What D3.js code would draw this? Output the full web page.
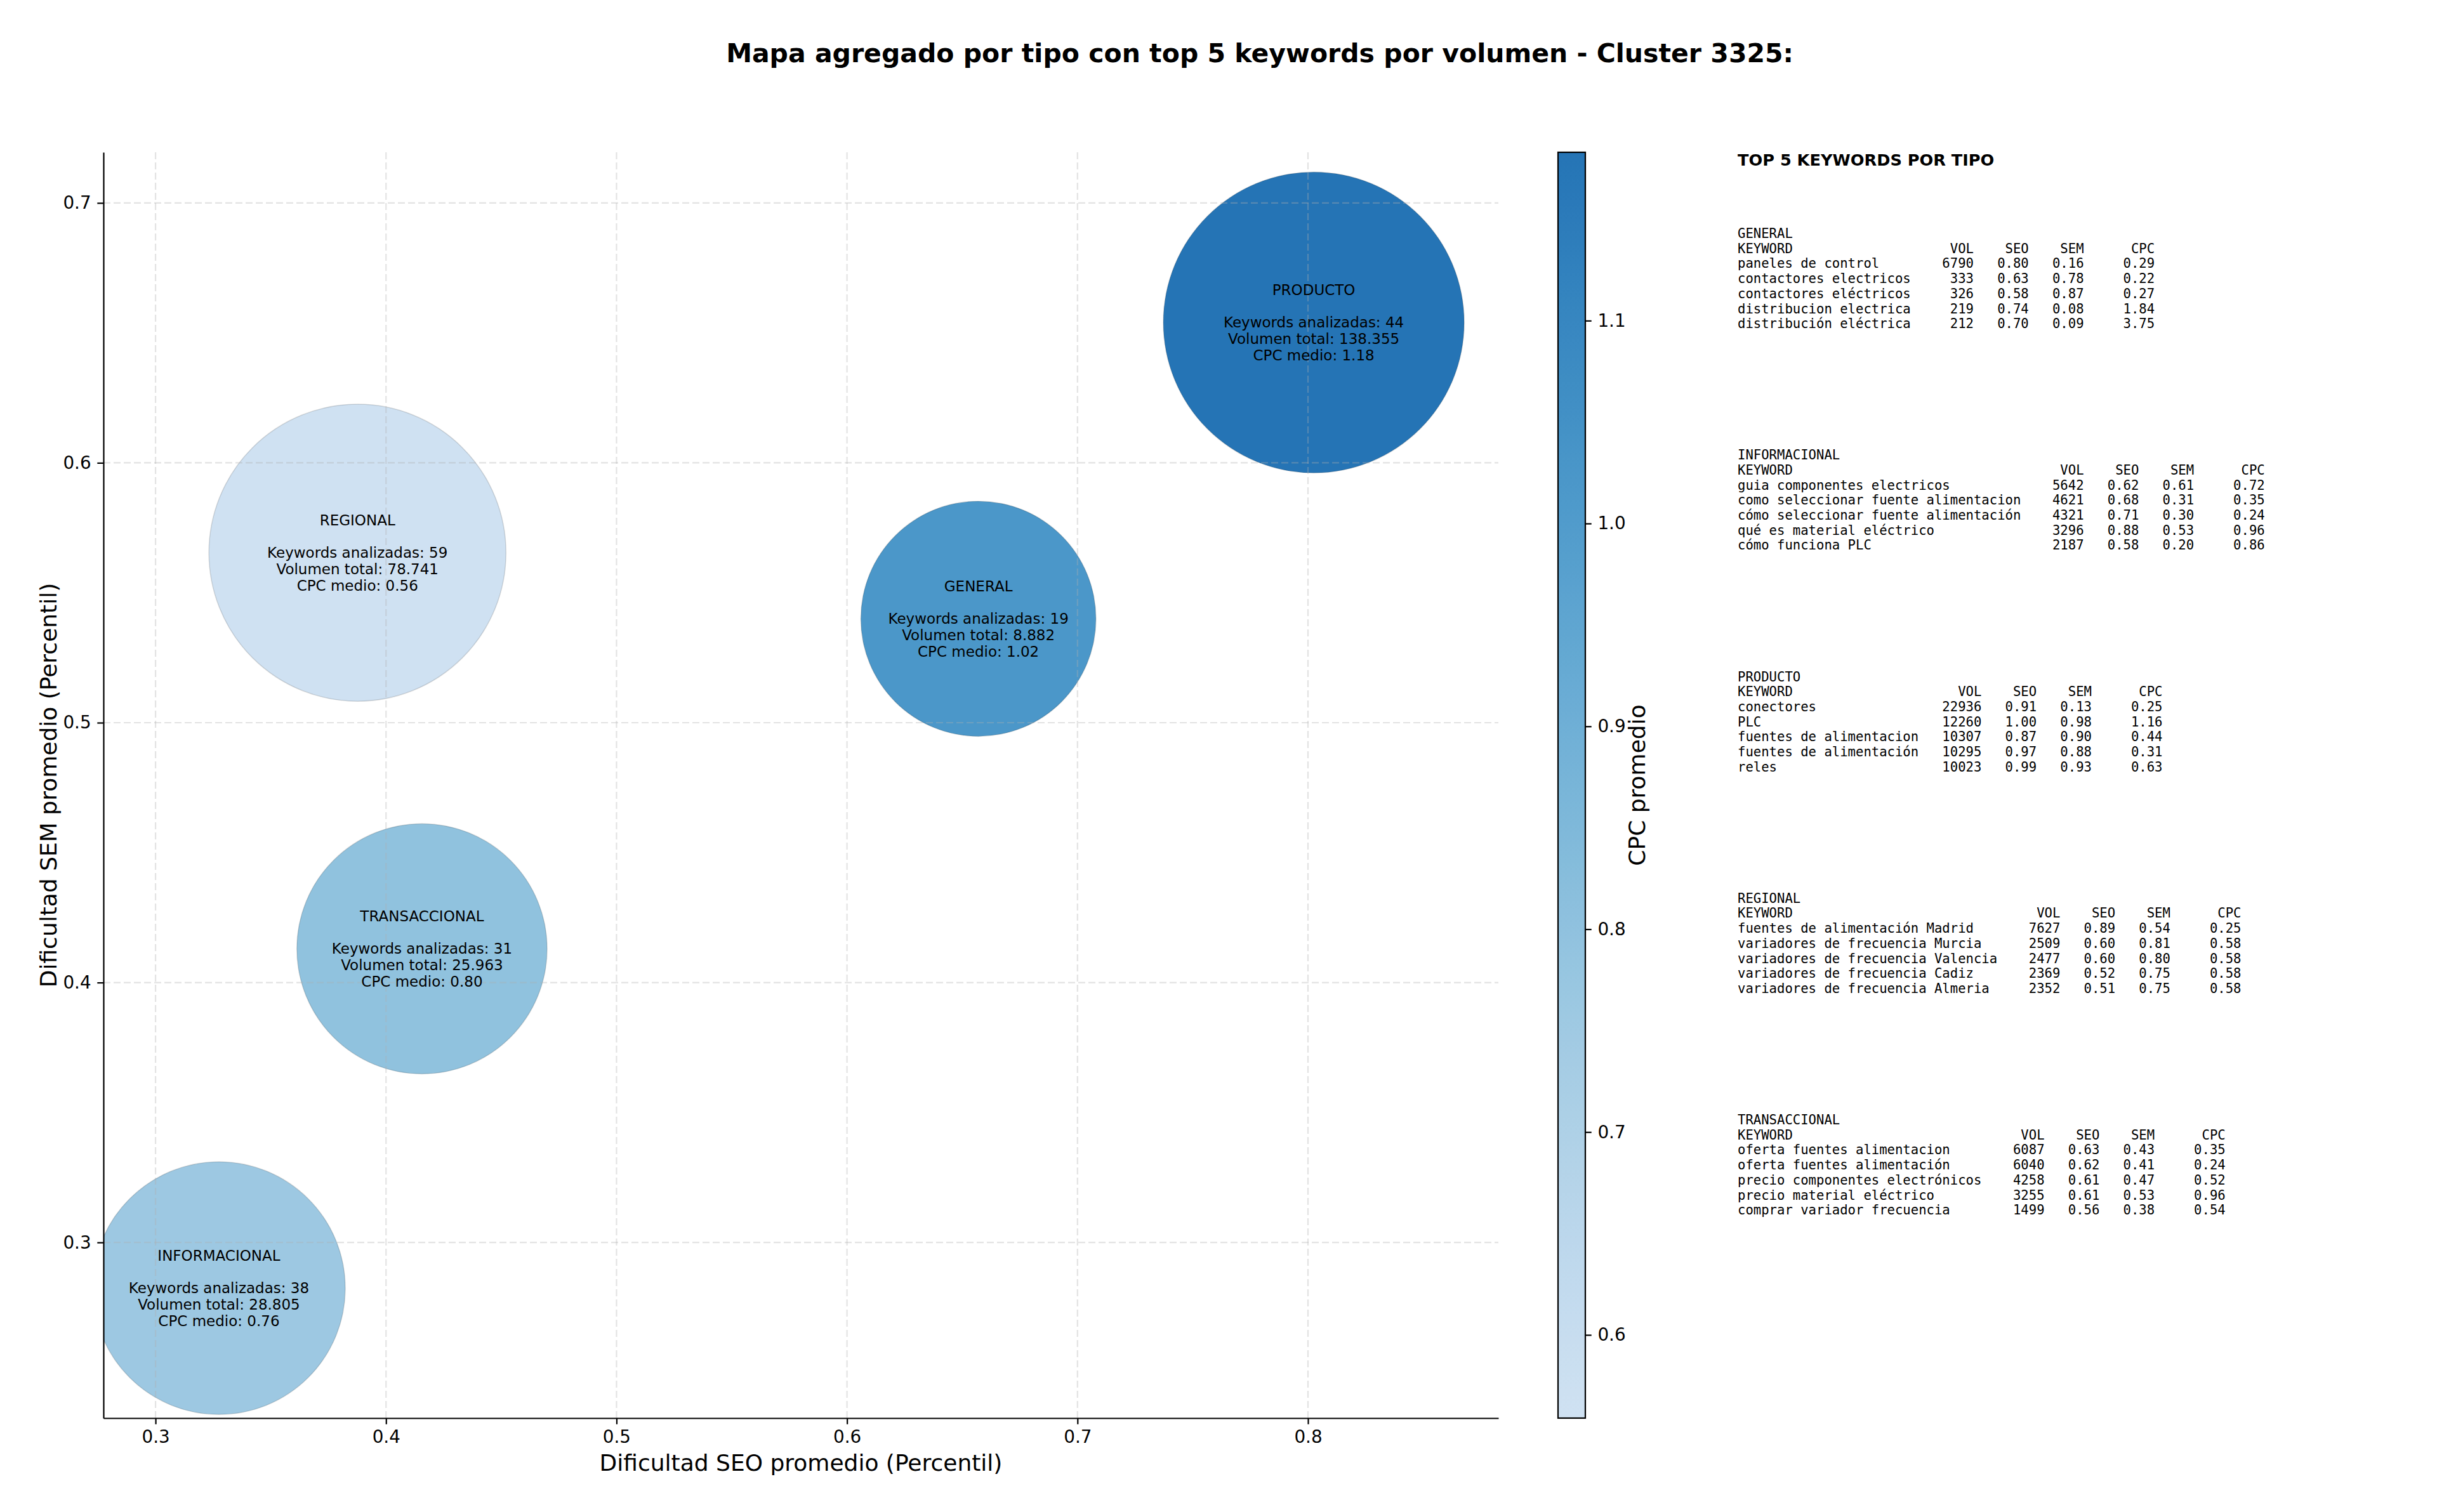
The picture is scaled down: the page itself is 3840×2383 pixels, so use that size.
<!DOCTYPE html>
<html>
<head>
<meta charset="utf-8">
<script src="https://cdn.jsdelivr.net/npm/d3@7"></script>
<style>
  html, body { margin: 0; padding: 0; background: #ffffff; }
  svg { display: block; }
  .mono { font-family: "DejaVu Sans Mono", monospace; white-space: pre; }
</style>
</head>
<body>
<svg id="chart" width="3840" height="2383"></svg>
<script>
// ---------------- DATA ----------------
const tipos        = ["GENERAL", "INFORMACIONAL", "PRODUCTO", "REGIONAL", "TRANSACCIONAL"];
const seoPromedio  = [0.657, 0.3275, 0.8025, 0.3876, 0.4156];
const semPromedio  = [0.540, 0.2824, 0.654, 0.5654, 0.413];
const cpcPromedio  = [1.02, 0.76, 1.183, 0.559, 0.80];
const numKeywords  = [19, 38, 44, 59, 31];
const volumenTotal = [8882, 28805, 138355, 78741, 25963];

const xTicks  = [0.3, 0.4, 0.5, 0.6, 0.7, 0.8];
const yTicks  = [0.3, 0.4, 0.5, 0.6, 0.7];
const cbTicks = [0.6, 0.7, 0.8, 0.9, 1.0, 1.1];

// top 5 keywords per tipo: [keyword, vol, seo, sem, cpc]
const topGeneral = [
  ["paneles de control", 6790, 0.80, 0.16, 0.29],
  ["contactores electricos", 333, 0.63, 0.78, 0.22],
  ["contactores eléctricos", 326, 0.58, 0.87, 0.27],
  ["distribucion electrica", 219, 0.74, 0.08, 1.84],
  ["distribución eléctrica", 212, 0.70, 0.09, 3.75]
];
const topInformacional = [
  ["guia componentes electricos", 5642, 0.62, 0.61, 0.72],
  ["como seleccionar fuente alimentacion", 4621, 0.68, 0.31, 0.35],
  ["cómo seleccionar fuente alimentación", 4321, 0.71, 0.30, 0.24],
  ["qué es material eléctrico", 3296, 0.88, 0.53, 0.96],
  ["cómo funciona PLC", 2187, 0.58, 0.20, 0.86]
];
const topProducto = [
  ["conectores", 22936, 0.91, 0.13, 0.25],
  ["PLC", 12260, 1.00, 0.98, 1.16],
  ["fuentes de alimentacion", 10307, 0.87, 0.90, 0.44],
  ["fuentes de alimentación", 10295, 0.97, 0.88, 0.31],
  ["reles", 10023, 0.99, 0.93, 0.63]
];
const topRegional = [
  ["fuentes de alimentación Madrid", 7627, 0.89, 0.54, 0.25],
  ["variadores de frecuencia Murcia", 2509, 0.60, 0.81, 0.58],
  ["variadores de frecuencia Valencia", 2477, 0.60, 0.80, 0.58],
  ["variadores de frecuencia Cadiz", 2369, 0.52, 0.75, 0.58],
  ["variadores de frecuencia Almeria", 2352, 0.51, 0.75, 0.58]
];
const topTransaccional = [
  ["oferta fuentes alimentacion", 6087, 0.63, 0.43, 0.35],
  ["oferta fuentes alimentación", 6040, 0.62, 0.41, 0.24],
  ["precio componentes electrónicos", 4258, 0.61, 0.47, 0.52],
  ["precio material eléctrico", 3255, 0.61, 0.53, 0.96],
  ["comprar variador frecuencia", 1499, 0.56, 0.38, 0.54]
];
const topTables = [topGeneral, topInformacional, topProducto, topRegional, topTransaccional];

const titleText = "Mapa agregado por tipo con top 5 keywords por volumen - Cluster 3325:";

// ---------------- LAYOUT ----------------
const svg = d3.select("#chart");
const plot = { left: 163, right: 2361, top: 240, bottom: 2235 };
const cb = { left: 2455, right: 2498 };
const sans = "'DejaVu Sans', Verdana, sans-serif";

const x = d3.scaleLinear().domain([0.2774, 0.8826]).range([plot.left, plot.right]);
const y = d3.scaleLinear().domain([0.2324, 0.7195]).range([plot.bottom, plot.top]);
const cpcExtent = d3.extent(cpcPromedio);
const color = d3.scaleSequential(t => d3.interpolateBlues(0.2 + 0.54 * t)).domain(cpcExtent);
// bubble radius grows with total volume, capped at a maximum size
const r = d3.scaleLinear().domain([0, 83000]).range([179, 237]).clamp(true);

const rows = tipos.map((t, i) => ({
  tipo: t, seo: seoPromedio[i], sem: semPromedio[i], cpc: cpcPromedio[i],
  kw: numKeywords[i], vol: volumenTotal[i]
}));

// title
svg.append("text")
  .attr("x", 1985).attr("y", 98)
  .attr("text-anchor", "middle")
  .style("font-family", sans).style("font-size", "41px").style("font-weight", "bold")
  .text(titleText);

// clip
svg.append("defs").append("clipPath").attr("id", "plotclip")
  .append("rect").attr("x", plot.left).attr("y", plot.top)
  .attr("width", plot.right - plot.left).attr("height", plot.bottom - plot.top);

// bubbles (below grid, like matplotlib)
const bubbles = svg.append("g").attr("clip-path", "url(#plotclip)");
bubbles.selectAll("circle").data(rows).join("circle")
  .attr("cx", d => x(d.seo)).attr("cy", d => y(d.sem))
  .attr("r", d => r(d.vol))
  .attr("fill", d => color(d.cpc))
  .attr("stroke", "rgba(0,0,0,0.14)").attr("stroke-width", 1.5);

// grid
const grid = svg.append("g");
grid.selectAll("line.gx").data(xTicks).join("line")
  .attr("x1", d => x(d)).attr("x2", d => x(d))
  .attr("y1", plot.top).attr("y2", plot.bottom)
  .attr("stroke", "#b0b0b0").attr("stroke-opacity", 0.35)
  .attr("stroke-width", 2.2).attr("stroke-dasharray", "11 5");
grid.selectAll("line.gy").data(yTicks).join("line")
  .attr("y1", d => y(d)).attr("y2", d => y(d))
  .attr("x1", plot.left).attr("x2", plot.right)
  .attr("stroke", "#b0b0b0").attr("stroke-opacity", 0.35)
  .attr("stroke-width", 2.2).attr("stroke-dasharray", "11 5");

// axes
const xAxis = svg.append("g").attr("transform", `translate(0,${plot.bottom})`)
  .call(d3.axisBottom(x).tickValues(xTicks).tickFormat(d3.format(".1f")).tickSize(9.7).tickPadding(9.7).tickSizeOuter(0));
const yAxis = svg.append("g").attr("transform", `translate(${plot.left},0)`)
  .call(d3.axisLeft(y).tickValues(yTicks).tickFormat(d3.format(".1f")).tickSize(9.7).tickPadding(9.7).tickSizeOuter(0));
[xAxis, yAxis].forEach(a => {
  a.selectAll("path.domain").attr("stroke", "#000").attr("stroke-width", 2.2);
  a.selectAll(".tick line").attr("stroke", "#000").attr("stroke-width", 2.2);
  a.selectAll(".tick text").style("font-family", sans).style("font-size", "27.8px").attr("fill", "#000");
});

// axis labels
svg.append("text")
  .attr("x", (plot.left + plot.right) / 2).attr("y", 2318)
  .attr("text-anchor", "middle")
  .style("font-family", sans).style("font-size", "36px")
  .text("Dificultad SEO promedio (Percentil)");
svg.append("text")
  .attr("transform", `translate(89,${(plot.top + plot.bottom) / 2}) rotate(-90)`)
  .attr("text-anchor", "middle")
  .style("font-family", sans).style("font-size", "36px")
  .text("Dificultad SEM promedio (Percentil)");

// bubble labels
const fmtVol = v => v.toString().replace(/\B(?=(\d{3})+(?!\d))/g, ".");
const labels = svg.append("g");
rows.forEach(d => {
  const lines = [d.tipo, "", `Keywords analizadas: ${d.kw}`, `Volumen total: ${fmtVol(d.vol)}`, `CPC medio: ${d.cpc.toFixed(2)}`];
  const L = 25.8;
  const cx = x(d.seo), cy = y(d.sem);
  lines.forEach((s, j) => {
    if (!s) return;
    labels.append("text")
      .attr("x", cx).attr("y", cy + (j - 2) * L + 8)
      .attr("text-anchor", "middle")
      .style("font-family", sans).style("font-size", "23px").attr("fill", "#000")
      .text(s);
  });
});

// colorbar
const cbY = d3.scaleLinear().domain(cpcExtent).range([plot.bottom, plot.top]);
const grad = svg.select("defs").append("linearGradient").attr("id", "cbgrad")
  .attr("x1", 0).attr("y1", 1).attr("x2", 0).attr("y2", 0);
d3.range(0, 1.0001, 0.02).forEach(t => {
  grad.append("stop").attr("offset", t)
    .attr("stop-color", color(cpcExtent[0] + t * (cpcExtent[1] - cpcExtent[0])));
});
svg.append("rect")
  .attr("x", cb.left).attr("y", plot.top)
  .attr("width", cb.right - cb.left).attr("height", plot.bottom - plot.top)
  .attr("fill", "url(#cbgrad)").attr("stroke", "#000").attr("stroke-width", 2.2);
const cbAxis = svg.append("g").attr("transform", `translate(${cb.right},0)`)
  .call(d3.axisRight(cbY).tickValues(cbTicks).tickFormat(d3.format(".1f")).tickSize(9.7).tickPadding(9.7).tickSizeOuter(0));
cbAxis.select("path.domain").remove();
cbAxis.selectAll(".tick line").attr("stroke", "#000").attr("stroke-width", 2.2);
cbAxis.selectAll(".tick text").style("font-family", sans).style("font-size", "27.8px").attr("fill", "#000");
svg.append("text")
  .attr("transform", `translate(2592,${(plot.top + plot.bottom) / 2}) rotate(-90)`)
  .attr("text-anchor", "middle")
  .style("font-family", sans).style("font-size", "36px")
  .text("CPC promedio");

// right-hand table
const tx = 2738;
svg.append("text")
  .attr("x", tx).attr("y", 261)
  .style("font-family", sans).style("font-size", "25.6px").style("font-weight", "bold")
  .text("TOP 5 KEYWORDS POR TIPO");

const blockStart = 375, blockStep = 349.25, lineStep = 23.7;
const table = svg.append("g");
tipos.forEach((t, i) => {
  const data = topTables[i];
  const w = d3.max(data, d => d[0].length) + 2;
  const lines = [t,
    "KEYWORD".padEnd(w) + "VOL".padStart(6) + "SEO".padStart(7) + "SEM".padStart(7) + "CPC".padStart(9)];
  data.forEach(d => {
    lines.push(d[0].padEnd(w) + String(d[1]).padStart(6) + d[2].toFixed(2).padStart(7) +
      d[3].toFixed(2).padStart(7) + d[4].toFixed(2).padStart(9));
  });
  lines.forEach((s, j) => {
    table.append("text")
      .attr("class", "mono")
      .attr("xml:space", "preserve")
      .attr("x", tx).attr("y", blockStart + i * blockStep + j * lineStep)
      .style("font-size", "20.6px").attr("fill", "#000")
      .text(s);
  });
});
</script>
</body>
</html>
